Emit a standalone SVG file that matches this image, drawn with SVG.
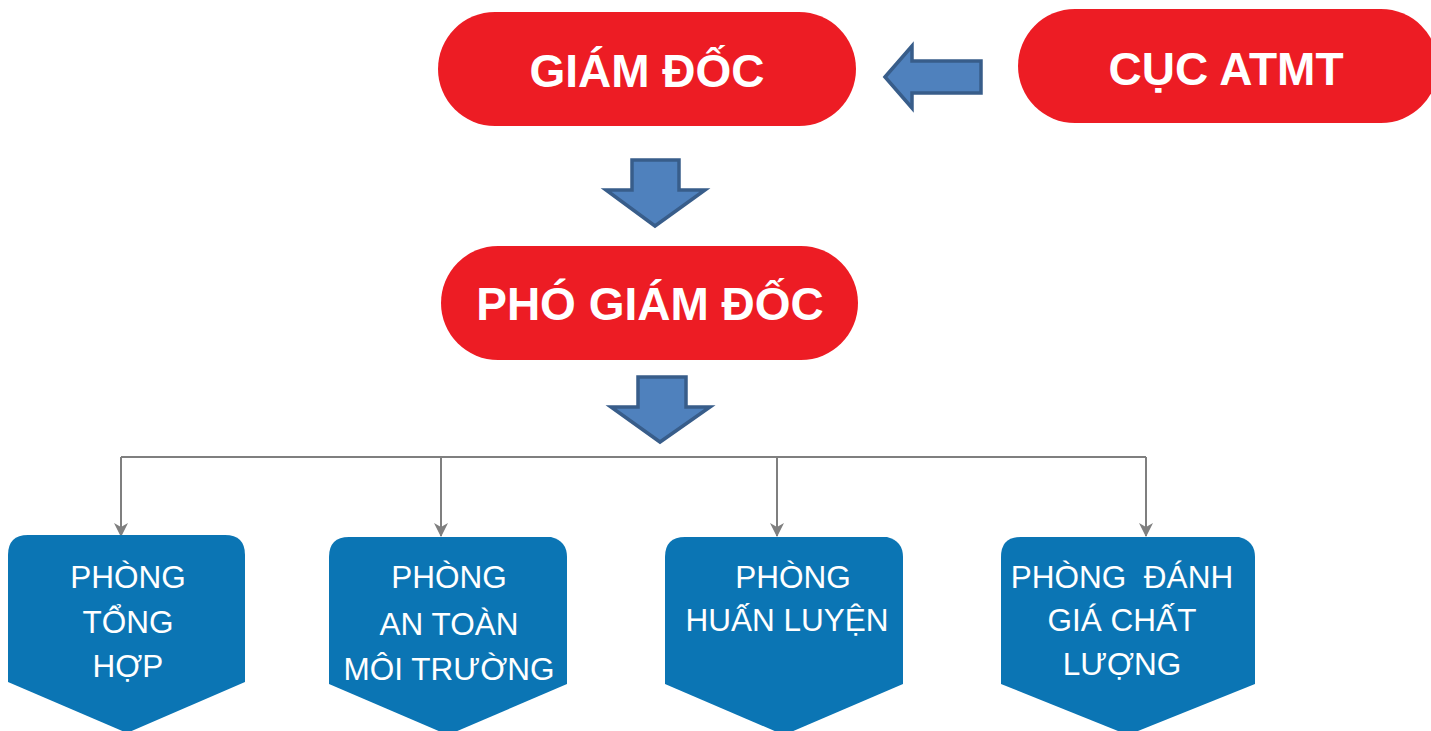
<svg xmlns="http://www.w3.org/2000/svg" width="1431" height="731" viewBox="0 0 1431 731">
<style>
.pill{fill:#ED1C24}
.pt{fill:#fff;font-family:"Liberation Sans",Arial,sans-serif;font-weight:bold;font-size:46px;text-anchor:middle}
.bx{fill:#0B75B4}
.bt{fill:#fff;font-family:"Liberation Sans",Arial,sans-serif;font-size:31.5px;text-anchor:middle}
.blk{fill:#4F81BD;stroke:#385D8A;stroke-width:3.5;stroke-linejoin:miter}
.con{fill:none;stroke:#7F7F7F;stroke-width:2}
</style>
<defs>
<marker id="ah" markerWidth="14" markerHeight="14" refX="13" refY="7" orient="auto" markerUnits="userSpaceOnUse" viewBox="0 0 14 14">
<path d="M0,0 L14,7 L0,14 L4,7 Z" fill="#7F7F7F"/>
</marker>
</defs>
<rect width="1431" height="731" fill="#fff"/>
<g id="giam-doc">
<rect class="pill" x="438" y="12" width="418" height="114" rx="57"/>
<text class="pt" x="647" y="87">GIÁM ĐỐC</text>
</g>
<g id="cuc-atmt">
<rect class="pill" x="1018" y="9" width="420" height="114" rx="57"/>
<text class="pt" x="1226" y="85">CỤC ATMT</text>
</g>
<g id="pho-giam-doc">
<rect class="pill" x="441" y="246" width="417" height="114" rx="57"/>
<text class="pt" x="650" y="320">PHÓ GIÁM ĐỐC</text>
</g>
<g id="block-arrows">
<path class="blk" d="M885,77 L912,46 L912,61 L981,61 L981,93 L912,93 L912,108 Z"/>
<path class="blk" d="M632,160 L679,160 L679,190 L705,190 L655,226 L606,190 L632,190 Z"/>
<path class="blk" d="M638,377 L686,377 L686,407 L710,407 L660,442 L611,407 L638,407 Z"/>
</g>
<g id="connectors">
<path class="con" d="M121,457 L1146,457"/>
<path class="con" d="M121,457 L121,536" marker-end="url(#ah)"/>
<path class="con" d="M441,457 L441,536" marker-end="url(#ah)"/>
<path class="con" d="M777,457 L777,536" marker-end="url(#ah)"/>
<path class="con" d="M1146,457 L1146,536" marker-end="url(#ah)"/>
</g>
<g id="phong-tong-hop">
<path class="bx" d="M28,535 L225,535 Q245,535 245,555 L245,682 L127,733 L8,682 L8,555 Q8,535 28,535 Z"/>
<text class="bt" x="128" y="588">PHÒNG</text>
<text class="bt" x="128" y="633">TỔNG</text>
<text class="bt" x="128" y="677">HỢP</text>
</g>
<g id="phong-an-toan">
<path class="bx" d="M349,537 L551,537 Q567,541 567,557 L567,684 L448,735 L329,684 L329,557 Q329,537 349,537 Z"/>
<text class="bt" x="449" y="588">PHÒNG</text>
<text class="bt" x="449" y="635">AN TOÀN</text>
<text class="bt" x="449" y="680">MÔI TRƯỜNG</text>
</g>
<g id="phong-huan-luyen">
<path class="bx" d="M685,537 L887,537 Q903,541 903,557 L903,684 L784,735 L665,684 L665,557 Q665,537 685,537 Z"/>
<text class="bt" x="793" y="588">PHÒNG</text>
<text class="bt" x="787" y="631">HUẤN LUYỆN</text>
</g>
<g id="phong-danh-gia">
<path class="bx" d="M1021,537 L1239,537 Q1255,541 1255,557 L1255,684 L1128,735 L1001,684 L1001,557 Q1001,537 1021,537 Z"/>
<text class="bt" x="1122" y="588" xml:space="preserve">PHÒNG  ĐÁNH</text>
<text class="bt" x="1122" y="631">GIÁ CHẤT</text>
<text class="bt" x="1122" y="675">LƯỢNG</text>
</g>
</svg>
